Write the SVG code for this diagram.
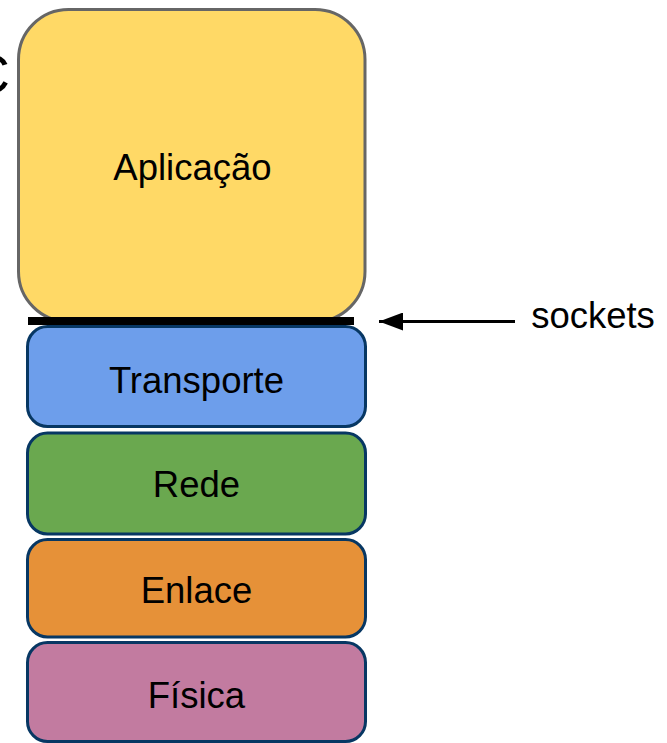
<svg xmlns="http://www.w3.org/2000/svg" width="667" height="743" viewBox="0 0 667 743">
<style>
  text { font-family: "Liberation Sans", Arial, sans-serif; font-size: 36.5px; fill: #000; text-anchor: middle; }
  .layer { stroke: #073763; stroke-width: 3; }
</style>
<defs>
  <marker id="ah" markerWidth="8" markerHeight="6" refX="8" refY="3" orient="auto" markerUnits="strokeWidth">
    <path d="M0,0 L8,3 L0,6 Z" fill="#000"/>
  </marker>
</defs>
<rect width="667" height="743" fill="#fff"/>
<text x="10" y="93" style="font-size:56px;text-anchor:end">C</text>
<g id="aplicacao">
  <rect x="18.5" y="9.5" width="346.5" height="312" rx="50" ry="50" fill="#ffd966" stroke="#666666" stroke-width="3"/>
  <text x="192.5" y="179.5">Aplicação</text>
</g>
<g id="transporte">
  <rect class="layer" x="27.5" y="326.5" width="338" height="100" rx="20" ry="20" fill="#6d9eeb"/>
  <text x="196.5" y="392.5">Transporte</text>
</g>
<g id="rede">
  <rect class="layer" x="27.5" y="433" width="338" height="101" rx="20" ry="20" fill="#6aa84f"/>
  <text x="196.5" y="497">Rede</text>
</g>
<g id="enlace">
  <rect class="layer" x="27.5" y="539.5" width="338" height="97.5" rx="20" ry="20" fill="#e69138"/>
  <text x="196.5" y="602.7">Enlace</text>
</g>
<g id="fisica">
  <rect class="layer" x="27.5" y="642.5" width="338" height="99" rx="20" ry="20" fill="#c27ba0"/>
  <text x="196.5" y="708">Física</text>
</g>
<g id="sockets-bar">
  <rect x="28" y="317" width="326" height="8" fill="#000"/>
</g>
<g id="sockets-label">
  <text x="593" y="327.5">sockets</text>
</g>
<g id="connectors">
  <line x1="515" y1="321.5" x2="379" y2="321.5" stroke="#000" stroke-width="3" marker-end="url(#ah)"/>
</g>
</svg>
